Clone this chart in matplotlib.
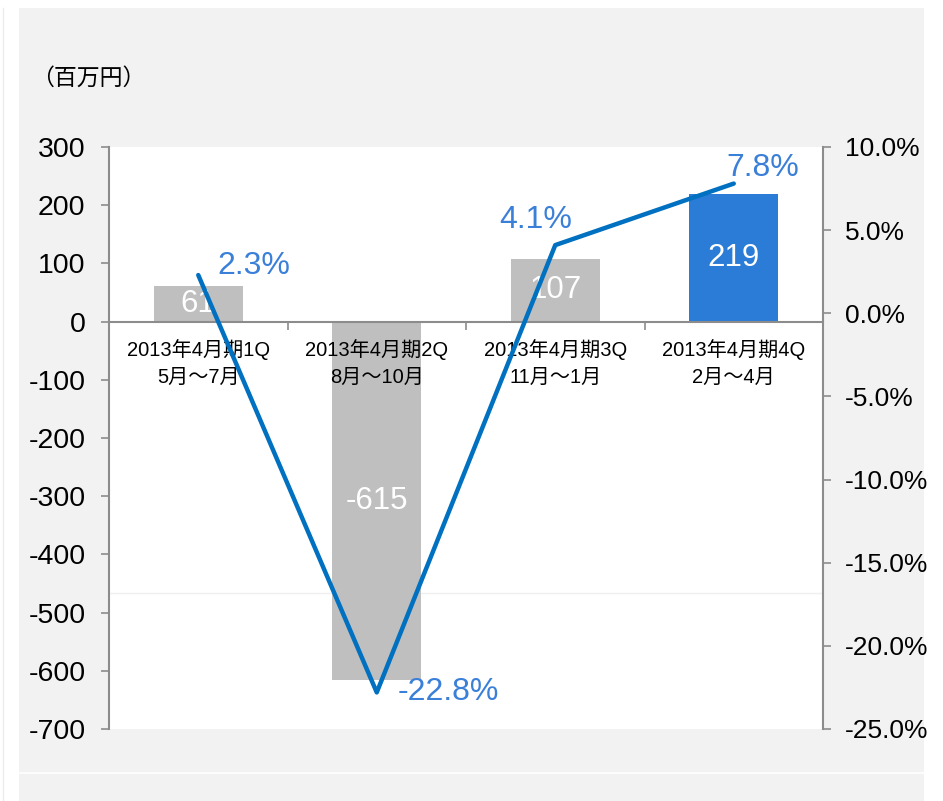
import matplotlib
matplotlib.use("Agg")
import matplotlib.pyplot as plt
from matplotlib.patches import Rectangle
from matplotlib.lines import Line2D
from matplotlib.ticker import FixedLocator, FuncFormatter

plt.rcParams['font.family'] = ['Liberation Sans', 'Noto Sans CJK JP', 'DejaVu Sans']
plt.rcParams['axes.unicode_minus'] = False

# quarterly operating profit (million yen) and margin (%)
quarters = ['2013年4月期1Q\n5月～7月', '2013年4月期2Q\n8月～10月',
            '2013年4月期3Q\n11月～1月', '2013年4月期4Q\n2月～4月']
profit = [61, -615, 107, 219]
margin = [2.3, -22.8, 4.1, 7.8]
bar_colors = ['#bfbfbf', '#bfbfbf', '#bfbfbf', '#2a7cd6']
left_ticks = [300, 200, 100, 0, -100, -200, -300, -400, -500, -600, -700]
right_ticks = [10.0, 5.0, 0.0, -5.0, -10.0, -15.0, -20.0, -25.0]

W, H = 943, 801
fig = plt.figure(figsize=(W / 100, H / 100), dpi=100)
fig.patch.set_facecolor('white')


def px(x0, y0, w, h):
    # pixel box (top-left origin) -> figure fraction rect
    return (x0 / W, 1 - (y0 + h) / H, w / W, h / H)


# grey panel behind the chart
bx, by, bw, bh = px(19, 8, 905, 793)
fig.patches.append(Rectangle((bx, by), bw, bh, transform=fig.transFigure,
                             facecolor='#f2f2f2', edgecolor='none', zorder=-10))
fig.lines.append(Line2D([19 / W, 924 / W], [1 - 773 / H] * 2, transform=fig.transFigure,
                        color='white', lw=1.2, zorder=-9))
fig.lines.append(Line2D([3 / W, 3 / W], [0, 1 - 8 / H], transform=fig.transFigure,
                        color='#ececec', lw=1.0, zorder=-9))

ax = fig.add_axes(px(109, 147, 714, 582))
ax.set_facecolor('white')
gray = '#8c8c8c'

x = list(range(len(quarters)))
ax.bar(x, profit, width=0.5, color=bar_colors, zorder=2)
for xi, v in zip(x, profit):
    ax.text(xi, v / 2, str(v), ha='center', va='center', color='white',
            fontsize=22.5, zorder=3)

ax.set_xlim(-0.5, len(quarters) - 0.5)
ax.set_ylim(-700, 300)
ax.yaxis.set_major_locator(FixedLocator(left_ticks))
ax.tick_params(axis='y', labelsize=20.5, length=6, width=1.2, color=gray, pad=11)

for s in ['top', 'right']:
    ax.spines[s].set_visible(False)
ax.spines['left'].set_color(gray)
ax.spines['left'].set_linewidth(1.5)
ax.spines['bottom'].set_position(('data', 0))
ax.spines['bottom'].set_color(gray)
ax.spines['bottom'].set_linewidth(1.5)
ax.spines['bottom'].set_zorder(2.6)

# category separators hang from the zero line
ax.xaxis.set_major_locator(FixedLocator([0.5, 1.5, 2.5]))
ax.tick_params(axis='x', which='major', length=6, width=1.2, color=gray,
               direction='out', labelbottom=False)

# category names sit just under the zero line, over the bars
for xi, q in zip(x, quarters):
    ax.annotate(q, (xi, 0), xytext=(0, -12.5), textcoords='offset points',
                ha='center', va='top', fontsize=14.5, linespacing=1.5, zorder=4)

# faint rule across the plot area
ax.axhline(-466, color='#efefef', lw=1.0, zorder=1)

ax2 = ax.twinx()
ax2.set_ylim(-25, 10)
ax2.yaxis.set_major_locator(FixedLocator(right_ticks))
ax2.yaxis.set_major_formatter(FuncFormatter(lambda v, p: f'{v:.1f}%'))
ax2.tick_params(axis='y', labelsize=19, length=6, width=1.2, color=gray, pad=10)
for s in ['top', 'left', 'bottom']:
    ax2.spines[s].set_visible(False)
ax2.spines['right'].set_color(gray)
ax2.spines['right'].set_linewidth(1.5)

ax2.plot(x, margin, color='#0070c0', lw=3.2, solid_capstyle='round', zorder=4)

label_blue = '#3a7fd8'
offsets = [(14, 6.5), (15, 0), (-40, 18), (-5, 11.5)]
for xi, m, (dx, dy) in zip(x, margin, offsets):
    ax2.annotate(f'{m:.1f}%', (xi, m), xytext=(dx, dy), textcoords='offset points',
                 ha='left', va='center', color=label_blue, fontsize=23)

fig.text(88 / W, 1 - 78 / H, '（百万円）', ha='center', va='center', fontsize=16.5,
         family=['Noto Sans CJK JP', 'DejaVu Sans'])

fig.savefig('out.png', dpi=100)
